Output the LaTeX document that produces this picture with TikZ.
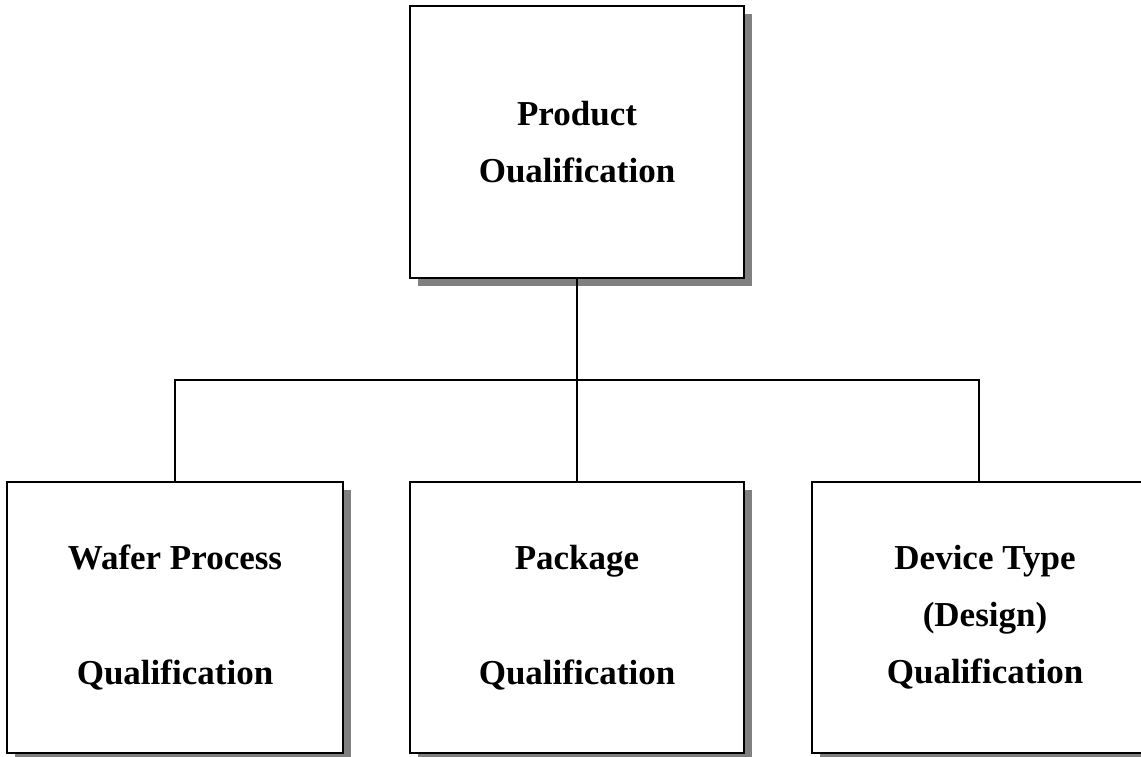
\documentclass[tikz,border=0pt]{standalone}
\usepackage{fontspec}
\setmainfont{Liberation Serif}
\usetikzlibrary{shadows}

\begin{document}
\begin{tikzpicture}
[x=1pt,y=-1pt,line width=1.3pt,
qualbox/.style={draw,fill=white,minimum width=334pt,minimum height=271pt,align=center,inner sep=0pt,
  font=\fontsize{35}{57}\selectfont\bfseries,
  drop shadow={shadow xshift=8pt,shadow yshift=-8pt,fill=gray,opacity=1}},]

\useasboundingbox (0,0) rectangle (1141,757);

%Qualification boxes
\node (prod) at (577,142)[qualbox,minimum height=272pt] {Product\\Oualification};
\node (wafer) at (175,617.5)[qualbox,minimum width=336pt] {Wafer Process\\[58pt]Qualification};
\node (pkg) at (577,617.5)[qualbox] {Package\\[58pt]Qualification};
\node (dev) at (985,617.5)[qualbox,minimum width=346pt] {Device Type\\(Design)\\Qualification};

%Joining the boxes
\coordinate (bus) at (577,380);
\draw (prod) -- (pkg);
\draw (wafer.north) |- (bus) -| ([xshift=-6pt]dev.north);

\end{tikzpicture}
\end{document}
